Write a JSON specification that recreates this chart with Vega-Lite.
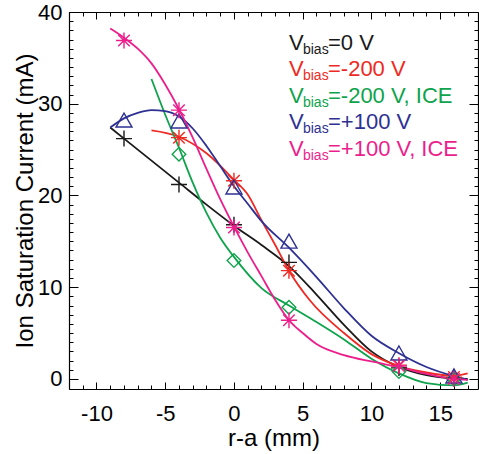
{
  "$schema": "https://vega.github.io/schema/vega-lite/v6.json",
  "width": 409,
  "height": 377,
  "autosize": "none",
  "padding": {"left": 69, "top": 12, "right": 1, "bottom": 65},
  "background": "white",
  "config": {
    "view": {"stroke": null},
    "font": "Liberation Sans",
    "axis": {
      "domainColor": "black",
      "domainWidth": 1.2,
      "tickColor": "black",
      "tickWidth": 1,
      "grid": false,
      "labelColor": "black",
      "labelFont": "Liberation Sans",
      "labelFontSize": 22,
      "labelFlush": false,
      "labelOverlap": false,
      "titleColor": "black",
      "titleFont": "Liberation Sans",
      "titleFontSize": 24,
      "titleFontWeight": "normal"
    }
  },
  "datasets": {
    "curves": [
      {"series": "0V", "x": -9, "y": 27.4}, {"series": "0V", "x": -6, "y": 23.8}, {"series": "0V", "x": -4, "y": 21.4}, {"series": "0V", "x": -2, "y": 19.0}, {"series": "0V", "x": 0, "y": 16.7}, {"series": "0V", "x": 2, "y": 14.6}, {"series": "0V", "x": 4, "y": 12.3}, {"series": "0V", "x": 6, "y": 9.2}, {"series": "0V", "x": 8, "y": 5.9}, {"series": "0V", "x": 10, "y": 3.0}, {"series": "0V", "x": 12, "y": 1.3}, {"series": "0V", "x": 14, "y": 0.4}, {"series": "0V", "x": 16, "y": 0.05}, {"series": "0V", "x": 17, "y": 0.0},
      {"series": "m200", "x": -6, "y": 27.1}, {"series": "m200", "x": -4, "y": 26.4}, {"series": "m200", "x": -2, "y": 24.6}, {"series": "m200", "x": 0, "y": 21.7}, {"series": "m200", "x": 1, "y": 20.1}, {"series": "m200", "x": 2, "y": 17.3}, {"series": "m200", "x": 3, "y": 14.6}, {"series": "m200", "x": 4, "y": 11.8}, {"series": "m200", "x": 5.5, "y": 8.6}, {"series": "m200", "x": 8, "y": 5.0}, {"series": "m200", "x": 10, "y": 2.7}, {"series": "m200", "x": 12, "y": 1.4}, {"series": "m200", "x": 14, "y": 0.7}, {"series": "m200", "x": 16, "y": 0.35}, {"series": "m200", "x": 17, "y": 0.6},
      {"series": "m200ICE", "x": -6, "y": 32.7}, {"series": "m200ICE", "x": -5, "y": 28.8}, {"series": "m200ICE", "x": -4, "y": 25.2}, {"series": "m200ICE", "x": -3, "y": 21.4}, {"series": "m200ICE", "x": -2, "y": 18.1}, {"series": "m200ICE", "x": -1, "y": 15.4}, {"series": "m200ICE", "x": 0, "y": 13.3}, {"series": "m200ICE", "x": 2, "y": 9.9}, {"series": "m200ICE", "x": 4, "y": 8.0}, {"series": "m200ICE", "x": 6, "y": 6.2}, {"series": "m200ICE", "x": 8, "y": 4.3}, {"series": "m200ICE", "x": 10, "y": 2.2}, {"series": "m200ICE", "x": 12, "y": 0.6}, {"series": "m200ICE", "x": 14, "y": -0.45}, {"series": "m200ICE", "x": 16, "y": -0.7}, {"series": "m200ICE", "x": 17, "y": -0.4},
      {"series": "p100", "x": -9, "y": 27.4}, {"series": "p100", "x": -8, "y": 28.4}, {"series": "p100", "x": -7, "y": 29.0}, {"series": "p100", "x": -6, "y": 29.3}, {"series": "p100", "x": -5, "y": 29.2}, {"series": "p100", "x": -4, "y": 28.6}, {"series": "p100", "x": -3, "y": 27.3}, {"series": "p100", "x": -2, "y": 25.4}, {"series": "p100", "x": -1, "y": 23.2}, {"series": "p100", "x": 0, "y": 21.0}, {"series": "p100", "x": 1, "y": 19.1}, {"series": "p100", "x": 2, "y": 17.2}, {"series": "p100", "x": 4, "y": 14.3}, {"series": "p100", "x": 6, "y": 11.1}, {"series": "p100", "x": 8, "y": 7.7}, {"series": "p100", "x": 10, "y": 4.7}, {"series": "p100", "x": 12, "y": 2.8}, {"series": "p100", "x": 14, "y": 1.3}, {"series": "p100", "x": 16, "y": 0.3}, {"series": "p100", "x": 17, "y": -0.1},
      {"series": "p100ICE", "x": -9, "y": 38.2}, {"series": "p100ICE", "x": -8, "y": 37.2}, {"series": "p100ICE", "x": -7, "y": 36.0}, {"series": "p100ICE", "x": -6, "y": 34.4}, {"series": "p100ICE", "x": -5, "y": 32.1}, {"series": "p100ICE", "x": -4, "y": 29.4}, {"series": "p100ICE", "x": -3, "y": 26.3}, {"series": "p100ICE", "x": -2, "y": 22.9}, {"series": "p100ICE", "x": -1, "y": 19.6}, {"series": "p100ICE", "x": 0, "y": 16.6}, {"series": "p100ICE", "x": 1, "y": 13.8}, {"series": "p100ICE", "x": 2, "y": 11.2}, {"series": "p100ICE", "x": 3, "y": 8.6}, {"series": "p100ICE", "x": 4, "y": 6.4}, {"series": "p100ICE", "x": 5, "y": 5.0}, {"series": "p100ICE", "x": 6, "y": 3.8}, {"series": "p100ICE", "x": 8, "y": 2.6}, {"series": "p100ICE", "x": 10, "y": 1.9}, {"series": "p100ICE", "x": 12, "y": 1.3}, {"series": "p100ICE", "x": 14, "y": 0.55}, {"series": "p100ICE", "x": 16, "y": 0.0}, {"series": "p100ICE", "x": 17, "y": -0.1}
    ],
    "points": [
      {"series": "0V", "x": -8, "y": 26.2}, {"series": "0V", "x": -4, "y": 21.2}, {"series": "0V", "x": 0, "y": 16.8}, {"series": "0V", "x": 4, "y": 12.7}, {"series": "0V", "x": 12, "y": 1.2}, {"series": "0V", "x": 16, "y": 0.1},
      {"series": "m200", "x": -4, "y": 26.3}, {"series": "m200", "x": 0, "y": 21.6}, {"series": "m200", "x": 4, "y": 11.8}, {"series": "m200", "x": 12, "y": 1.5}, {"series": "m200", "x": 16, "y": 0.2},
      {"series": "m200ICE", "x": -4, "y": 24.5}, {"series": "m200ICE", "x": 0, "y": 12.9}, {"series": "m200ICE", "x": 4, "y": 7.8}, {"series": "m200ICE", "x": 12, "y": 0.8}, {"series": "m200ICE", "x": 16, "y": 0.0},
      {"series": "p100", "x": -8, "y": 28.2}, {"series": "p100", "x": -4, "y": 28.1}, {"series": "p100", "x": 0, "y": 20.9}, {"series": "p100", "x": 4, "y": 15.0}, {"series": "p100", "x": 12, "y": 2.8}, {"series": "p100", "x": 16, "y": 0.3},
      {"series": "p100ICE", "x": -8, "y": 36.9}, {"series": "p100ICE", "x": -4, "y": 29.3}, {"series": "p100ICE", "x": 0, "y": 16.5}, {"series": "p100ICE", "x": 4, "y": 6.4}, {"series": "p100ICE", "x": 12, "y": 1.4}, {"series": "p100ICE", "x": 16, "y": 0.0}
    ],
    "legend": [
      {"series": "0V", "y": 35.9, "rest": "=0 V"},
      {"series": "m200", "y": 33.0, "rest": "=-200 V"},
      {"series": "m200ICE", "y": 30.1, "rest": "=-200 V, ICE"},
      {"series": "p100", "y": 27.25, "rest": "=+100 V"},
      {"series": "p100ICE", "y": 24.35, "rest": "=+100 V, ICE"}
    ]
  },
  "resolve": {"axis": {"x": "independent", "y": "independent"}},
  "layer": [
    {
      "data": {"name": "curves"},
      "mark": {"type": "line", "interpolate": "monotone", "strokeWidth": 1.8},
      "encoding": {
        "x": {
          "field": "x", "type": "quantitative",
          "scale": {"domain": [-12, 17.75], "nice": false, "zero": false},
          "axis": {
            "orient": "bottom",
            "values": [-12, -11, -10, -9, -8, -7, -6, -5, -4, -3, -2, -1, 0, 1, 2, 3, 4, 5, 6, 7, 8, 9, 10, 11, 12, 13, 14, 15, 16, 17],
            "labelExpr": "(datum.value % 5 === 0 && datum.value >= -10 && datum.value <= 15) ? ('' + datum.value) : ''",
            "tickSize": {"condition": {"test": "datum.value % 5 === 0", "value": -7}, "value": -4},
            "labelPadding": 21,
            "title": "r-a (mm)",
            "titleY": 56,
            "titleBaseline": "alphabetic"
          }
        },
        "y": {
          "field": "y", "type": "quantitative",
          "scale": {"domain": [-1.1, 40], "nice": false, "zero": false},
          "axis": {
            "orient": "left",
            "values": [0, 1, 2, 3, 4, 5, 6, 7, 8, 9, 10, 11, 12, 13, 14, 15, 16, 17, 18, 19, 20, 21, 22, 23, 24, 25, 26, 27, 28, 29, 30, 31, 32, 33, 34, 35, 36, 37, 38, 39, 40],
            "labelExpr": "(datum.value % 10 === 0) ? ('' + datum.value) : ''",
            "tickSize": {"condition": {"test": "datum.value % 10 === 0", "value": -9}, "value": -4},
            "labelPadding": 16,
            "title": "Ion Saturation Current (mA)",
            "titleX": -37,
            "titleY": 188.5,
            "titleBaseline": "alphabetic"
          }
        },
        "color": {
          "field": "series", "type": "nominal",
          "scale": {"domain": ["0V", "m200", "m200ICE", "p100", "p100ICE"], "range": ["#1a1a1a", "#ee2a24", "#0ea34c", "#2e3192", "#ec1e8c"]},
          "legend": null
        },
        "detail": {"field": "series"}
      }
    },
    {
      "data": {"name": "points"},
      "mark": {"type": "point", "filled": false, "strokeWidth": 1.4, "size": 256, "opacity": 1},
      "encoding": {
        "x": {
          "field": "x", "type": "quantitative",
          "scale": {"domain": [-12, 17.75], "nice": false, "zero": false},
          "axis": {
            "orient": "top",
            "values": [-12, -11, -10, -9, -8, -7, -6, -5, -4, -3, -2, -1, 0, 1, 2, 3, 4, 5, 6, 7, 8, 9, 10, 11, 12, 13, 14, 15, 16, 17],
            "labels": false,
            "tickSize": {"condition": {"test": "datum.value % 5 === 0", "value": -7}, "value": -4},
            "title": null
          }
        },
        "y": {
          "field": "y", "type": "quantitative",
          "scale": {"domain": [-1.1, 40], "nice": false, "zero": false},
          "axis": {
            "orient": "right",
            "values": [0, 1, 2, 3, 4, 5, 6, 7, 8, 9, 10, 11, 12, 13, 14, 15, 16, 17, 18, 19, 20, 21, 22, 23, 24, 25, 26, 27, 28, 29, 30, 31, 32, 33, 34, 35, 36, 37, 38, 39, 40],
            "labels": false,
            "tickSize": {"condition": {"test": "datum.value % 10 === 0", "value": -9}, "value": -4},
            "title": null
          }
        },
        "color": {"field": "series", "type": "nominal", "legend": null},
        "shape": {
          "field": "series", "type": "nominal",
          "scale": {
            "domain": ["0V", "m200", "m200ICE", "p100", "p100ICE"],
            "range": [
              "M-1,0H1M0,-1V1",
              "M-1,0H1M0,-1V1M-0.72,-0.72L0.72,0.72M-0.72,0.72L0.72,-0.72",
              "M0,-0.85L0.85,0L0,0.85L-0.85,0Z",
              "M0,-0.9L1,0.85L-1,0.85Z",
              "M-1,0H1M0,-1V1M-0.72,-0.72L0.72,0.72M-0.72,0.72L0.72,-0.72"
            ]
          },
          "legend": null
        }
      }
    },
    {
      "data": {"name": "legend"},
      "mark": {"type": "text", "text": "V", "fontSize": 22, "align": "left", "baseline": "alphabetic", "font": "Liberation Sans"},
      "encoding": {
        "x": {"datum": 4, "type": "quantitative", "axis": null},
        "y": {"field": "y", "type": "quantitative", "axis": null},
        "color": {"field": "series", "type": "nominal", "legend": null}
      }
    },
    {
      "data": {"name": "legend"},
      "mark": {"type": "text", "text": "bias", "fontSize": 14, "align": "left", "baseline": "alphabetic", "dx": 14, "dy": 4, "font": "Liberation Sans"},
      "encoding": {
        "x": {"datum": 4, "type": "quantitative", "axis": null},
        "y": {"field": "y", "type": "quantitative", "axis": null},
        "color": {"field": "series", "type": "nominal", "legend": null}
      }
    },
    {
      "data": {"name": "legend"},
      "mark": {"type": "text", "fontSize": 22, "align": "left", "baseline": "alphabetic", "dx": 39, "font": "Liberation Sans"},
      "encoding": {
        "x": {"datum": 4, "type": "quantitative", "axis": null},
        "y": {"field": "y", "type": "quantitative", "axis": null},
        "text": {"field": "rest"},
        "color": {"field": "series", "type": "nominal", "legend": null}
      }
    }
  ]
}
